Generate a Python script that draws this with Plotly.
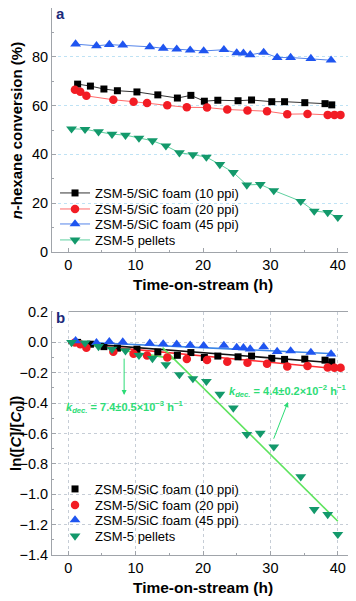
import plotly.graph_objects as go

# ---- panel a: n-hexane conversion (%) ----
t_10ppi = [1.4, 3.3, 5.3, 7.3, 10.2, 13.3, 16.2, 18.2, 20.2, 22.2, 25.2, 27.2, 30.2, 32.1, 35.1, 38.1, 39.1]
conv_10ppi = [68.8, 68.0, 66.8, 66.1, 65.6, 64.4, 63.1, 64.2, 61.8, 62.2, 62.0, 62.3, 61.6, 61.6, 61.2, 60.8, 60.3]

t_20ppi = [1.0, 1.8, 2.7, 6.7, 9.7, 11.7, 14.7, 17.6, 20.6, 23.6, 26.6, 29.5, 32.5, 35.5, 38.5, 39.5, 40.4]
conv_20ppi = [66.5, 65.7, 64.0, 62.4, 61.6, 61.1, 60.1, 59.3, 59.2, 58.4, 58.0, 57.7, 56.5, 56.6, 56.2, 56.2, 56.2]

t_45ppi = [1.1, 4.2, 6.1, 8.1, 12.1, 14.1, 16.1, 18.1, 20.1, 23.1, 25.0, 26.0, 27.0, 29.0, 31.0, 33.0, 36.0, 39.0]
conv_45ppi = [85.2, 84.5, 85.0, 84.8, 84.1, 83.5, 83.1, 82.7, 82.4, 82.9, 81.6, 81.5, 80.8, 81.8, 79.7, 79.7, 79.3, 78.6]

t_pel = [0.5, 2.5, 4.5, 6.5, 8.5, 10.5, 12.5, 14.5, 16.5, 18.5, 20.5, 22.5, 24.5, 26.5, 28.5, 30.5, 34.5, 36.5, 38.5, 40.0]
conv_pel = [50.5, 50.3, 49.3, 48.3, 47.9, 46.7, 45.6, 43.5, 40.7, 39.9, 38.9, 35.9, 32.6, 27.5, 27.7, 25.2, 20.8, 16.8, 16.2, 14.2]

# ---- panel b: ln([C]/[C0]) ----
ln_10ppi = [0.0, -0.012, -0.028, -0.038, -0.045, -0.063, -0.085, -0.067, -0.099, -0.090, -0.095, -0.090, -0.105, -0.112, -0.110, -0.117, -0.128]
ln_20ppi = [0.0, -0.012, -0.036, -0.062, -0.075, -0.086, -0.100, -0.110, -0.116, -0.128, -0.134, -0.140, -0.158, -0.155, -0.165, -0.167, -0.167]
ln_45ppi = [0.010, -0.002, 0.005, 0.002, -0.006, -0.010, -0.013, -0.018, -0.022, -0.020, -0.034, -0.036, -0.044, -0.030, -0.060, -0.056, -0.066, -0.077]
ln_pel = [0.0, -0.004, -0.027, -0.045, -0.055, -0.085, -0.106, -0.146, -0.212, -0.238, -0.256, -0.341, -0.432, -0.605, -0.598, -0.688, -0.884, -1.100, -1.133, -1.264]

# linear fits (end points)
fit_10_x, fit_10_y = [0, 39.3], [0.0, -0.134]
fit_20_x, fit_20_y = [0, 41.0], [-0.005, -0.178]
fit_45_x, fit_45_y = [0, 39.5], [0.006, -0.075]
fit_pel1_x, fit_pel1_y = [0, 15.9], [0.008, -0.110]
fit_pel2_x, fit_pel2_y = [14.0, 40.0], [-0.034, -1.178]

names = ["ZSM-5/SiC foam (10 ppi)", "ZSM-5/SiC foam (20 ppi)", "ZSM-5/SiC foam (45 ppi)", "ZSM-5 pellets"]

font_family = "Liberation Sans, Arial, sans-serif"
tick_font_size = 14.5
title_font_size = 15.5
legend_font_size = 13

black = "#000000"
red = "#f21c24"
blue = "#1f55f0"
green = "#13996b"

# page body has an 8px margin, so the figure is 8px smaller and shifted
fig_w, fig_h = 348, 593

# one legend per entry so the rows can sit closer than plotly's default spacing
legend_a_y = [0.6618, 0.6325, 0.6051, 0.5759]
legend_b_y = [0.1207, 0.0914, 0.0640, 0.0347]

fig = go.Figure()

series_a = [
    (t_10ppi, conv_10ppi, black, "#333333", "square", 7),
    (t_20ppi, conv_20ppi, red, "#ff6a6a", "circle", 8.5),
    (t_45ppi, conv_45ppi, blue, "#5585ea", "triangle-up", 9.5),
    (t_pel, conv_pel, green, "#5fd0a0", "triangle-down", 9.5),
]
for i, (name, (x, y, mc, lc, sym, sz)) in enumerate(zip(names, series_a)):
    fig.add_trace(go.Scatter(
        x=x, y=y, name=name, mode="lines+markers",
        marker=dict(symbol=sym, size=sz, color=mc),
        line=dict(color=lc, width=1),
        xaxis="x", yaxis="y", legend="legend" if i == 0 else f"legend{i + 1}"))

# panel b fits
fits = [
    (fit_10_x, fit_10_y, "#111111"),
    (fit_20_x, fit_20_y, "#ff2a30"),
    (fit_45_x, fit_45_y, "#3c86e6"),
    (fit_pel1_x, fit_pel1_y, "#5ee35e"),
    (fit_pel2_x, fit_pel2_y, "#5ee35e"),
]
for x, y, c in fits:
    fig.add_trace(go.Scatter(x=x, y=y, mode="lines", line=dict(color=c, width=1.6),
                             showlegend=False, xaxis="x2", yaxis="y2", hoverinfo="skip"))

series_b = [
    (t_10ppi, ln_10ppi, black, "square", 7),
    (t_20ppi, ln_20ppi, red, "circle", 8.5),
    (t_45ppi, ln_45ppi, blue, "triangle-up", 9.5),
    (t_pel, ln_pel, green, "triangle-down", 9.5),
]
for i, (name, (x, y, mc, sym, sz)) in enumerate(zip(names, series_b)):
    fig.add_trace(go.Scatter(
        x=x, y=y, name=name, mode="markers",
        marker=dict(symbol=sym, size=sz, color=mc),
        xaxis="x2", yaxis="y2", legend=f"legend{i + 5}"))

axis_common = dict(
    showline=True, mirror=True, linecolor="#a0a4aa", linewidth=1,
    ticks="inside", ticklen=4, tickcolor="#a0a4aa",
    tickfont=dict(family=font_family, size=tick_font_size, color="black"),
    zeroline=False, automargin=False,
)

legend_common = dict(xanchor="left", yanchor="middle", bgcolor="rgba(0,0,0,0)",
                     font=dict(family=font_family, size=legend_font_size),
                     tracegroupgap=0, itemwidth=30)
legends = {}
for i, ly in enumerate(legend_a_y + legend_b_y):
    key = "legend" if i == 0 else f"legend{i + 1}"
    legends[key] = dict(legend_common, x=0.01, y=ly)

dom_a = [0.5539, 1.0]
dom_b = [0, 0.4442]

fig.update_layout(
    width=fig_w, height=fig_h,
    margin=dict(l=44, r=2, t=0, b=46),
    plot_bgcolor="white", paper_bgcolor="white",
    font=dict(family=font_family, color="black"),
    xaxis=dict(axis_common, domain=[0, 1], anchor="y", range=[-2.4, 42.4], dtick=10,
               showgrid=False, minor=dict(ticks="inside", ticklen=2, dtick=5, tickcolor="#a0a4aa"),
               title=dict(text="<b>Time-on-stream (h)</b>", standoff=6,
                          font=dict(family=font_family, size=title_font_size))),
    yaxis=dict(axis_common, domain=dom_a, anchor="x", range=[0, 100], dtick=20,
               showgrid=True, gridcolor="#bfe2f4", griddash="dot", gridwidth=1,
               minor=dict(ticks="inside", ticklen=2, dtick=10, tickcolor="#a0a4aa")),
    xaxis2=dict(axis_common, domain=[0, 1], anchor="y2", range=[-2.4, 42.4], dtick=10,
                showgrid=True, gridcolor="#c6cdd6", griddash="dot", gridwidth=1,
                minor=dict(ticks="inside", ticklen=2, dtick=5, tickcolor="#a0a4aa"),
                title=dict(text="<b>Time-on-stream (h)</b>", standoff=6,
                           font=dict(family=font_family, size=title_font_size))),
    yaxis2=dict(axis_common, domain=dom_b, anchor="x2", range=[-1.4, 0.2], dtick=0.2,
                tickformat=".1f",
                showgrid=True, gridcolor="#c6cdd6", griddash="dot", gridwidth=1,
                minor=dict(ticks="inside", ticklen=2, dtick=0.1, tickcolor="#a0a4aa")),
    **legends,
)

# y-axis titles as rotated annotations (placed close to the page edge like the original)
ytitle_x = -0.118
fig.add_annotation(text="<b><i>n</i>-hexane conversion (%)</b>", xref="paper", yref="paper",
                   x=ytitle_x, y=(dom_a[0] + dom_a[1]) / 2, textangle=-90, showarrow=False,
                   xanchor="center", yanchor="middle",
                   font=dict(family=font_family, size=15))
fig.add_annotation(text="<b>ln([<i>C</i>]/[<i>C</i><sub>0</sub>])</b>", xref="paper", yref="paper",
                   x=ytitle_x, y=(dom_b[0] + dom_b[1]) / 2, textangle=-90, showarrow=False,
                   xanchor="center", yanchor="middle",
                   font=dict(family=font_family, size=15))

ann_color = "#2ddc76"
fig.add_annotation(text="<b>a</b>", xref="paper", yref="paper", x=0, y=1.012,
                   xanchor="left", yanchor="top", showarrow=False, bgcolor="white",
                   borderpad=3, font=dict(family=font_family, size=15, color="#1b2a7a"))
fig.add_annotation(text="<b>b</b>", xref="paper", yref="paper", x=0, y=dom_b[1] + 0.012,
                   xanchor="left", yanchor="top", showarrow=False, bgcolor="white",
                   borderpad=3, font=dict(family=font_family, size=15, color="#1b2a7a"))

# rate-constant labels, centred in page pixels at about (124, 407) and (287, 391)
fig.add_annotation(text="<b><i>k</i><sub><i>dec.</i></sub> = 7.4\u00b10.5\u00d710<sup>\u22123</sup> h<sup>\u22121</sup></b>",
                   xref="paper", yref="paper", x=(124 - 52) / 302, y=(555 - 407) / 547,
                   showarrow=False, xanchor="center", yanchor="middle",
                   font=dict(family=font_family, size=11, color=ann_color))
fig.add_annotation(text="<b><i>k</i><sub><i>dec.</i></sub> = 4.4\u00b10.2\u00d710<sup>\u22122</sup> h<sup>\u22121</sup></b>",
                   xref="paper", yref="paper", x=(287 - 52) / 302, y=(555 - 391) / 547,
                   showarrow=False, xanchor="center", yanchor="middle",
                   font=dict(family=font_family, size=11, color=ann_color))
# arrows
fig.add_annotation(text="", xref="x2", yref="y2", axref="x2", ayref="y2",
                   x=8.3, y=-0.347, ax=8.3, ay=-0.097, showarrow=True,
                   arrowhead=2, arrowsize=1, arrowwidth=1, arrowcolor=ann_color)
fig.add_annotation(text="", xref="x2", yref="y2", axref="x2", ayref="y2",
                   x=32.6, y=-0.393, ax=30.4, ay=-0.644, showarrow=True,
                   arrowhead=2, arrowsize=1, arrowwidth=1, arrowcolor=ann_color)

fig.write_html("out.html")
